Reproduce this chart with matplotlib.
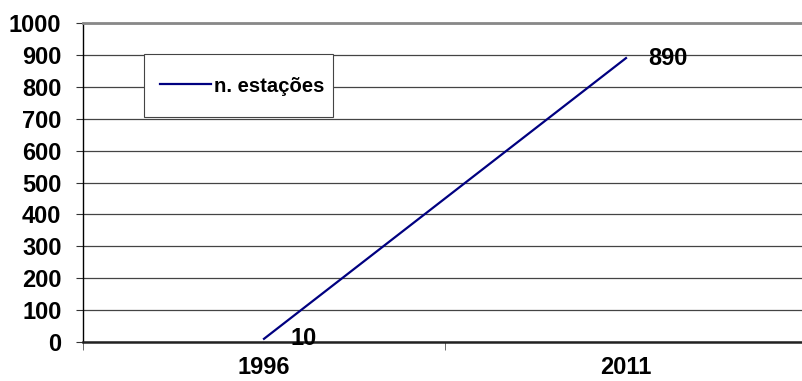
import matplotlib.pyplot as plt
from matplotlib.patches import Rectangle
import numpy as np

# data
years = ["1996", "2011"]
stations = [10, 890]
series_name = "n. estações"
y_ticks = list(range(0, 1001, 100))

plt.rcParams["font.family"] = ["Liberation Sans", "DejaVu Sans"]
plt.rcParams["font.weight"] = "bold"

W, H = 802, 381
fig = plt.figure(figsize=(W / 100, H / 100), dpi=100)
ax = fig.add_axes([83 / W, 1 - 342 / H, 724 / W, (342 - 23) / H])

x = np.arange(len(years))
ax.plot(x, stations, color="#000080", lw=1.6, label=series_name, zorder=3)

ax.set_xlim(-0.5, len(years) - 0.5)
ax.set_ylim(0, 1000)
ax.set_yticks(y_ticks)
ax.set_yticklabels([str(v) for v in y_ticks], fontsize=17, fontweight="bold")
ax.set_xticks(x)
ax.set_xticklabels(years, fontsize=17, fontweight="bold")
ax.tick_params(axis="x", length=0, pad=10)
ax.set_xticks(np.arange(-0.5, len(years), 1), minor=True)
ax.tick_params(axis="x", which="minor", length=6, direction="out", color="#555555")
ax.tick_params(axis="y", length=5, direction="out", color="#333333", pad=10.5)

ax.grid(axis="y", color="#444444", lw=0.9)
ax.set_axisbelow(True)
ax.spines["right"].set_visible(False)
ax.spines["top"].set_color("#888888")
ax.spines["top"].set_linewidth(2)
ax.spines["left"].set_color("#000000")
ax.spines["left"].set_linewidth(1)
ax.spines["bottom"].set_color("#222222")
ax.spines["bottom"].set_linewidth(1.8)

# value labels
for xi, v, dx in zip(x, stations, [19, 16]):
    ax.annotate(str(v), (xi, v), xytext=(dx, 0),
                textcoords="offset points", fontsize=17, fontweight="bold",
                ha="left", va="center", zorder=4)

# legend box drawn like the spreadsheet one
ax.add_patch(Rectangle((144 / W, 1 - 117 / H), (333 - 144) / W, (117 - 54) / H,
                       transform=fig.transFigure, facecolor="white",
                       edgecolor="#444444", lw=0.8, zorder=5, clip_on=False))
leg = ax.legend(loc="center left", bbox_to_anchor=((160 - 83) / 724, (342 - 86) / 319),
                frameon=False, fontsize=14.6, handlelength=2.5,
                handletextpad=0.15, borderpad=0, borderaxespad=0)
leg.set_zorder(6)
for t in leg.get_texts():
    t.set_fontweight("bold")

fig.savefig("out.png", dpi=100)
